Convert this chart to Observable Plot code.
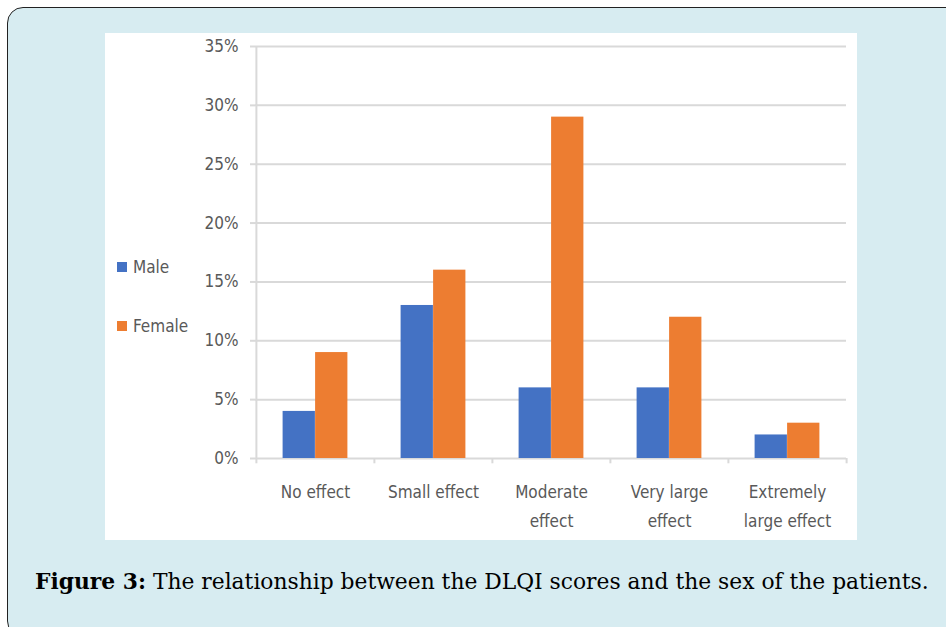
<!DOCTYPE html>
<html>
<head>
<meta charset="utf-8">
<script src="https://cdn.jsdelivr.net/npm/d3@7"></script>
<script src="https://cdn.jsdelivr.net/npm/@observablehq/plot@0.6"></script>
<style>
  html, body { margin: 0; padding: 0; background: #ffffff; }
  body { width: 946px; height: 627px; position: relative; overflow: hidden; }
  #box { position: absolute; left: 7px; top: 7px; width: 960px; height: 630px;
         background: #d7ecf1; border: 1.5px solid #222; border-radius: 16px; box-sizing: border-box; }
  #panel { position: absolute; left: 105px; top: 33px; width: 752px; height: 507px; background: #fff; }
  #chart { position: absolute; left: 0; top: 0; }
  .leg { position: absolute; left: 12px; font-family: 'DejaVu Sans Condensed', 'Liberation Sans Narrow', sans-serif;
         font-size: 17px; color: #595959; line-height: 20px; white-space: nowrap; }
  .leg span.sw { display: inline-block; width: 10px; height: 10px; margin-right: 6px; vertical-align: 1px; }
  #caption { position: absolute; left: 35px; top: 569px; font-family: 'DejaVu Serif', serif;
             font-size: 21.8px; color: #000; white-space: nowrap; }
</style>
</head>
<body>
<div id="box"></div>
<div id="panel">
  <div id="chart"></div>
  <div class="leg" id="legMale" style="top:224px"><span class="sw" style="background:#4472c4"></span>Male</div>
  <div class="leg" id="legFemale" style="top:283px"><span class="sw" style="background:#ed7d31"></span>Female</div>
</div>
<div id="caption"><b>Figure 3:</b> The relationship between the DLQI scores and the sex of the patients.</div>
<script>
const categories = ["No effect", "Small effect", "Moderate effect", "Very large effect", "Extremely large effect"];
const tickLabels = ["No effect", "Small effect", "Moderate\neffect", "Very large\neffect", "Extremely\nlarge effect"];
const male = [4, 13, 6, 6, 2];
const female = [9, 16, 29, 12, 3];
const yTicks = [0, 5, 10, 15, 20, 25, 30, 35];

const W = 752, H = 507, mL = 150, mR = 11, mT = 13, mB = 82;
const band = (W - mL - mR) / categories.length;
const barW = 32.5;
const outer = (band - 2 * barW) / 2;

const maleRows = categories.map((c, i) => ({category: c, value: male[i]}));
const femaleRows = categories.map((c, i) => ({category: c, value: female[i]}));

const chart = Plot.plot({
  width: W, height: H,
  marginLeft: mL, marginRight: mR, marginTop: mT, marginBottom: mB,
  style: {fontFamily: "'DejaVu Sans Condensed', 'Liberation Sans Narrow', sans-serif", fontSize: "17px", color: "#595959", background: "white", overflow: "visible"},
  x: {domain: categories, padding: 0, label: null},
  y: {domain: [0, 35], label: null},
  marks: [
    Plot.ruleY(yTicks.slice(1), {stroke: "#d9d9d9", strokeWidth: 2}),
    Plot.axisY({ticks: yTicks, tickFormat: d => d + "%", tickSize: 5, tickPadding: 12, stroke: "#d9d9d9", strokeWidth: 2, strokeOpacity: 1, fill: "#595959", label: null}),
    Plot.ruleX([categories[0]], {dx: -band / 2, stroke: "#d9d9d9", strokeWidth: 2}),
    Plot.ruleX(categories, {x: d => d, dx: -band / 2, y1: 0, y2: -0.45, stroke: "#d9d9d9", strokeWidth: 2}),
    Plot.ruleX([categories[categories.length - 1]], {dx: band / 2, y1: 0, y2: -0.45, stroke: "#d9d9d9", strokeWidth: 2}),
    Plot.ruleY([0], {stroke: "#d9d9d9", strokeWidth: 2}),
    Plot.barY(maleRows, {x: "category", y: "value", fill: "#4472c4", insetLeft: outer, insetRight: outer + barW}),
    Plot.barY(femaleRows, {x: "category", y: "value", fill: "#ed7d31", insetLeft: outer + barW, insetRight: outer}),
    Plot.axisX({tickSize: 0, tickPadding: 19, lineHeight: 1.7, fill: "#595959", label: null,
                tickFormat: d => tickLabels[categories.indexOf(d)]})
  ]
});
document.getElementById("chart").appendChild(chart);
</script>
</body>
</html>
